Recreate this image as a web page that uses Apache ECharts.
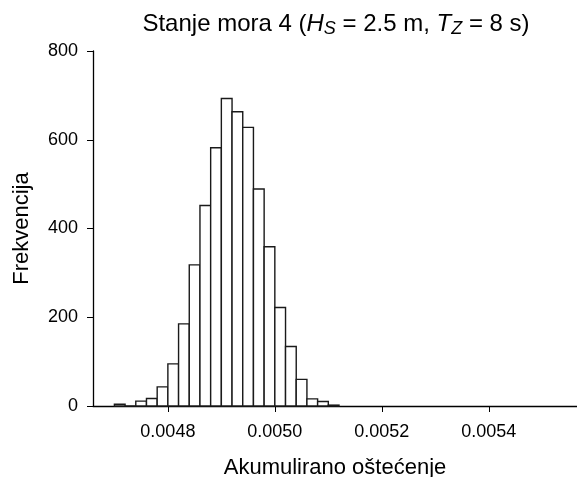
<!DOCTYPE html>
<html>
<head>
<meta charset="utf-8">
<script src="https://cdn.jsdelivr.net/npm/echarts@6/dist/echarts.min.js"></script>
<style>
  html, body { margin: 0; padding: 0; background: #fff; }
  #chart { width: 577px; height: 477px; }
</style>
</head>
<body>
<div id="chart"></div>
<script>
// histogram bins (start of each bin), width 0.00002
var binStart = [0.00470, 0.00472, 0.00474, 0.00476, 0.00478, 0.00480, 0.00482,
  0.00484, 0.00486, 0.00488, 0.00490, 0.00492, 0.00494, 0.00496, 0.00498,
  0.00500, 0.00502, 0.00504, 0.00506, 0.00508, 0.00510];
var binWidth = 0.00002;
var counts = [4, 0, 11, 17, 43, 95, 185, 318, 452, 582, 693, 663, 628, 489, 359,
  222, 134, 60, 16, 10, 2];
var xTicks = [0.0048, 0.0050, 0.0052, 0.0054];

var data = [];
for (var i = 0; i < binStart.length; i++) {
  data.push([binStart[i], binStart[i] + binWidth, counts[i]]);
}

var font = "Arial, 'Liberation Sans', sans-serif";
var chart = echarts.init(document.getElementById("chart"));

var option = {
  animation: false,
  title: {
    text: "Stanje mora 4 ({i|H}{sub|S} = 2.5 m, {i|T}{sub|Z} = 8 s)",
    left: 331,
    textAlign: "center",
    top: 5,
    textStyle: {
      fontFamily: font,
      fontSize: 24,
      fontWeight: "normal",
      color: "#000",
      rich: {
        i: { fontFamily: font, fontSize: 24, fontStyle: "italic", color: "#000" },
        sub: { fontFamily: font, fontSize: 18, fontStyle: "italic", color: "#000",
          padding: [10, 0, 0, 0] },
      },
    },
  },
  grid: { left: 93, right: 0, top: 51, bottom: 71, outerBoundsMode: "none" },
  xAxis: {
    type: "value",
    min: 0.00466,
    max: 0.005565,
    name: "Akumulirano oštećenje",
    nameLocation: "middle",
    nameGap: 51,
    nameTextStyle: { fontFamily: font, fontSize: 22, color: "#000" },
    axisLine: { onZero: false, lineStyle: { color: "#000", width: 1.3 } },
    axisTick: { customValues: xTicks, length: 6, lineStyle: { color: "#000" } },
    axisLabel: {
      customValues: xTicks,
      fontFamily: font,
      fontSize: 18,
      color: "#000",
      margin: 17,
      formatter: function (v) { return v.toFixed(4); },
    },
    splitLine: { show: false },
  },
  yAxis: {
    type: "value",
    min: 0,
    max: 800,
    interval: 200,
    name: "Frekvencija",
    nameLocation: "middle",
    nameGap: 60,
    nameTextStyle: { fontFamily: font, fontSize: 22, color: "#000" },
    axisLine: { show: true, lineStyle: { color: "#000", width: 1.3 } },
    axisTick: { show: true, length: 6, lineStyle: { color: "#000" } },
    axisLabel: { fontFamily: font, fontSize: 18, color: "#000", margin: 15 },
    splitLine: { show: false },
  },
  series: [
    {
      type: "custom",
      data: data,
      encode: { x: [0, 1], y: 2 },
      renderItem: function (params, api) {
        var p0 = api.coord([api.value(0), 0]);
        var p1 = api.coord([api.value(1), api.value(2)]);
        return {
          type: "rect",
          shape: { x: p0[0], y: p1[1], width: p1[0] - p0[0], height: p0[1] - p1[1] },
          style: { fill: "#fff", stroke: "#1a1a1a", lineWidth: 1.4 },
        };
      },
    },
  ],
};
chart.setOption(option);
</script>
</body>
</html>
